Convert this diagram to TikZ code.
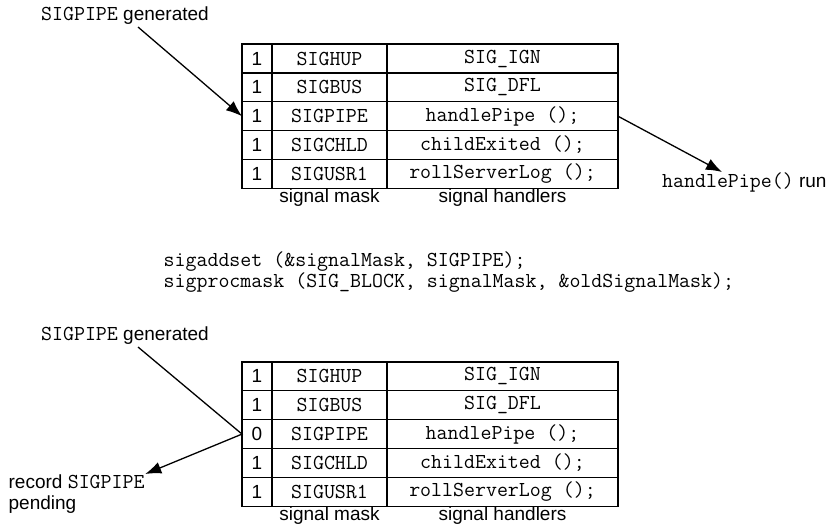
\documentclass[tikz,border=0pt]{standalone}
\usepackage{fontspec}
\setmainfont{Liberation Sans}
\usetikzlibrary{positioning,arrows.meta}
\newcommand\codefont{\fontsize{21.3}{21}\selectfont\ttfamily}
\newcommand\code[1]{{\codefont #1}}
\begin{document}
\begin{tikzpicture}[x=1pt,y=-1pt,line width=1.3pt,
  every node/.style={font=\fontsize{19}{21}\selectfont},
  cell/.style={draw,outer sep=0pt,inner sep=0pt,minimum height=28.85pt},
  mask/.style={cell,minimum width=30pt},
  sig/.style={cell,minimum width=115pt,font=\codefont},
  hdl/.style={cell,minimum width=231pt,font=\codefont},
  tag/.style={inner sep=0pt,anchor=base west},
  under/.style={inner sep=0pt,anchor=north},
  tip/.style={-{Latex[length=16pt,width=12pt]}}]
\useasboundingbox (0,0) rectangle (834,525);
% before blocking
\node[tag] (gen1) at (40.5,20.5) {\code{SIGPIPE} generated};
\coordinate (g1) at (138,27);
\node[mask] (tm1) at (257,58.5) {1};
\node[sig,right=0pt of tm1] (ts1) {SIGHUP};
\node[hdl,right=0pt of ts1] (th1) {SIG\_IGN};
\node[mask,below=0pt of tm1] (tm2) {1};
\node[sig,right=0pt of tm2] (ts2) {SIGBUS};
\node[hdl,right=0pt of ts2] (th2) {SIG\_DFL};
\node[mask,below=0pt of tm2] (tm3) {1};
\node[sig,right=0pt of tm3] (ts3) {SIGPIPE};
\node[hdl,right=0pt of ts3] (th3) {handlePipe ();};
\node[mask,below=0pt of tm3] (tm4) {1};
\node[sig,right=0pt of tm4] (ts4) {SIGCHLD};
\node[hdl,right=0pt of ts4] (th4) {childExited ();};
\node[mask,below=0pt of tm4] (tm5) {1};
\node[sig,right=0pt of tm5] (ts5) {SIGUSR1};
\node[hdl,right=0pt of ts5] (th5) {rollServerLog ();};
\node[under] (tsm) at (ts5.south) {signal mask};
\node[under] (tsh) at (th5.south) {signal handlers};
\node[tag] (run) at (661.5,187.5) {\code{handlePipe()} run};
\coordinate (r1) at (722,172);
\draw[tip] (g1) -- (tm3.west);
\draw[tip] (th3.east) -- (r1);
% the calls
\node[tag] (code1) at (163,266) {\code{sigaddset (\&signalMask, SIGPIPE);}};
\node[tag] (code2) at (163,287) {\code{sigprocmask (SIG\_BLOCK, signalMask, \&oldSignalMask);}};
% after blocking
\node[tag] (gen2) at (40.5,340.5) {\code{SIGPIPE} generated};
\coordinate (g2) at (138,347);
\node[mask] (bm1) at (257,376.4) {1};
\node[sig,right=0pt of bm1] (bs1) {SIGHUP};
\node[hdl,right=0pt of bs1] (bh1) {SIG\_IGN};
\node[mask,below=0pt of bm1] (bm2) {1};
\node[sig,right=0pt of bm2] (bs2) {SIGBUS};
\node[hdl,right=0pt of bs2] (bh2) {SIG\_DFL};
\node[mask,below=0pt of bm2] (bm3) {0};
\node[sig,right=0pt of bm3] (bs3) {SIGPIPE};
\node[hdl,right=0pt of bs3] (bh3) {handlePipe ();};
\node[mask,below=0pt of bm3] (bm4) {1};
\node[sig,right=0pt of bm4] (bs4) {SIGCHLD};
\node[hdl,right=0pt of bs4] (bh4) {childExited ();};
\node[mask,below=0pt of bm4] (bm5) {1};
\node[sig,right=0pt of bm5] (bs5) {SIGUSR1};
\node[hdl,right=0pt of bs5] (bh5) {rollServerLog ();};
\node[under] (bsm) at (bs5.south) {signal mask};
\node[under] (bsh) at (bh5.south) {signal handlers};
\node[inner sep=0pt,anchor=north west,align=left] (rec) at (8,474) {record \code{SIGPIPE}\\pending};
\draw[tip] (g2) -- (bm3.west) -- (rec.north east);
\end{tikzpicture}
\end{document}
